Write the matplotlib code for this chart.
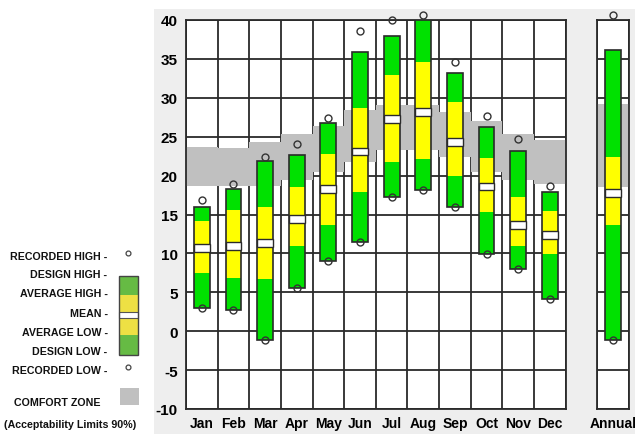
import matplotlib
matplotlib.use("Agg")
import matplotlib.pyplot as plt
from matplotlib.patches import Rectangle
from matplotlib.lines import Line2D

plt.rcParams['font.family'] = ['Liberation Sans', 'DejaVu Sans']
plt.rcParams['font.weight'] = 'bold'
plt.rcParams['axes.unicode_minus'] = False

# Monthly temperature statistics (deg C)
months = ['Jan', 'Feb', 'Mar', 'Apr', 'May', 'Jun', 'Jul', 'Aug', 'Sep', 'Oct', 'Nov', 'Dec']
rec_high = [16.9, 18.9, 22.4, 24.1, 27.4, 38.6, 40.0, 40.7, 34.6, 27.6, 24.7, 18.6]
design_high = [16.0, 18.3, 21.9, 22.7, 26.8, 35.9, 38.0, 40.0, 33.2, 26.2, 23.1, 17.9]
avg_high = [14.2, 15.6, 16.0, 18.5, 22.8, 28.7, 32.9, 34.6, 29.4, 22.3, 17.2, 15.4]
mean_temp = [10.7, 11.0, 11.3, 14.4, 18.3, 23.1, 27.3, 28.2, 24.3, 18.6, 13.7, 12.4]
avg_low = [7.5, 6.8, 6.7, 10.9, 13.6, 17.9, 21.8, 22.1, 19.9, 15.3, 10.9, 9.9]
design_low = [3.0, 2.7, -1.1, 5.6, 9.0, 11.5, 17.3, 18.1, 15.9, 9.9, 8.0, 4.1]
rec_low = [3.0, 2.7, -1.1, 5.6, 9.0, 11.5, 17.3, 18.1, 15.9, 9.9, 8.0, 4.1]
comfort_low = [18.6, 18.6, 18.6, 19.4, 20.5, 21.7, 23.3, 23.3, 22.4, 20.4, 19.4, 18.9]
comfort_high = [23.7, 23.5, 24.3, 25.3, 26.4, 28.4, 29.1, 29.1, 28.2, 27.0, 25.3, 24.6]

# Annual statistics
annual_label = ['Annual']
annual_rec_high = [40.7]
annual_design_high = [36.2]
annual_avg_high = [22.4]
annual_mean = [17.8]
annual_avg_low = [13.6]
annual_design_low = [-1.1]
annual_rec_low = [-1.1]
annual_comfort_low = [18.5]
annual_comfort_high = [29.2]

y_ticks = [-10, -5, 0, 5, 10, 15, 20, 25, 30, 35, 40]

GREEN = '#00E100'
YELLOW = '#FFFF00'
GRAY = '#C0C0C0'
LINE = '#2a2a2a'
PANEL = '#EEEEEE'

W, H = 635, 435
fig = plt.figure(figsize=(W / 100, H / 100), dpi=100)
fig.patch.set_facecolor('white')


def fx(x):
    return x / W


def fy(y):
    return 1 - y / H


# light panel behind the chart
fig.add_artist(Rectangle((fx(154), 0), 1 - fx(154), fy(10), transform=fig.transFigure,
                         facecolor=PANEL, edgecolor='none', zorder=0))


def draw_panel(ax, labels, rh, dh, ah, mn, al, dl, rl, cl, ch):
    n = len(labels)
    xs = list(range(n))
    ax.set_xlim(-0.5, n - 0.5)
    ax.set_ylim(-10, 40)
    ax.set_facecolor('white')
    # grid
    for k in range(n + 1):
        ax.axvline(k - 0.5, color=LINE, lw=1.3, zorder=1)
    for t in y_ticks:
        ax.axhline(t, color=LINE, lw=1.3, zorder=1)
    # comfort zone
    ax.bar(xs, [h - l for h, l in zip(ch, cl)], bottom=cl, width=1.0,
           color=GRAY, edgecolor='none', zorder=2)
    bw = 0.5
    # design low -> average low
    ax.bar(xs, [a - d for a, d in zip(al, dl)], bottom=dl, width=bw,
           color=GREEN, edgecolor='none', zorder=3)
    # average low -> average high
    ax.bar(xs, [a - b for a, b in zip(ah, al)], bottom=al, width=bw,
           color=YELLOW, edgecolor='none', zorder=3)
    # average high -> design high
    ax.bar(xs, [d - a for d, a in zip(dh, ah)], bottom=ah, width=bw,
           color=GREEN, edgecolor='none', zorder=3)
    # outline of the whole bar
    ax.bar(xs, [d - l for d, l in zip(dh, dl)], bottom=dl, width=bw,
           facecolor='none', edgecolor=LINE, lw=1.2, zorder=4)
    # mean band
    ax.bar(xs, [1.0] * n, bottom=[m - 0.5 for m in mn], width=bw,
           facecolor='white', edgecolor=LINE, lw=1.0, zorder=4)
    # recorded extremes
    ax.plot(xs, rh, 'o', ms=5, mfc='none', mec='#333333', mew=1.0,
            clip_on=False, zorder=5)
    ax.plot(xs, rl, 'o', ms=5, mfc='none', mec='#333333', mew=1.0,
            clip_on=False, zorder=5)
    for s in ax.spines.values():
        s.set_color(LINE)
        s.set_linewidth(1.3)
    ax.set_xticks(xs)
    ax.set_xticklabels(labels, fontsize=10, fontweight='bold')
    ax.tick_params(axis='x', length=0, pad=5)


ax = fig.add_axes([fx(186), fy(410), fx(565.6) - fx(186), fy(21) - fy(410)])
draw_panel(ax, months, rec_high, design_high, avg_high, mean_temp, avg_low,
           design_low, rec_low, comfort_low, comfort_high)
ax.set_yticks(y_ticks)
ax.set_yticklabels([str(t) for t in y_ticks], fontsize=11, fontweight='bold')
ax.tick_params(axis='y', length=0, pad=6)

ax2 = fig.add_axes([fx(596.7), fy(410), fx(629) - fx(596.7), fy(21) - fy(410)])
draw_panel(ax2, annual_label, annual_rec_high, annual_design_high, annual_avg_high,
           annual_mean, annual_avg_low, annual_design_low, annual_rec_low,
           annual_comfort_low, annual_comfort_high)
ax2.set_yticks(y_ticks)
ax2.set_yticklabels([])
ax2.tick_params(axis='y', length=0)

# legend on the left
legend_rows = [
    ('RECORDED HIGH -', 257),
    ('DESIGN HIGH -', 275),
    ('AVERAGE HIGH -', 294),
    ('MEAN -', 314),
    ('AVERAGE LOW -', 333),
    ('DESIGN LOW -', 352),
    ('RECORDED LOW -', 371),
]
for txt, y in legend_rows:
    fig.text(fx(107.5), fy(y), txt, ha='right', va='center', fontsize=7.7,
             fontweight='bold', color='#111111')
fig.text(fx(100), fy(402.7), 'COMFORT ZONE', ha='right', va='center', fontsize=7.7,
         fontweight='bold', color='#111111')
fig.text(fx(70), fy(425), '(Acceptability Limits 90%)', ha='center', va='center',
         fontsize=7.7, fontweight='bold', color='#111111')

LG_GREEN = '#66BB44'
LG_YELLOW = '#EEE044'
seg = [(277.3, 296, LG_GREEN), (296, 312.7, LG_YELLOW), (312.7, 318.7, 'white'),
       (318.7, 336, LG_YELLOW), (336, 355.7, LG_GREEN)]
for top, bot, col in seg:
    fig.add_artist(Rectangle((fx(119), fy(bot)), fx(138.3) - fx(119), fy(top) - fy(bot),
                             transform=fig.transFigure, facecolor=col, edgecolor='none'))
for top, bot in [(312.7, 318.7)]:
    fig.add_artist(Rectangle((fx(119), fy(bot)), fx(138.3) - fx(119), fy(top) - fy(bot),
                             transform=fig.transFigure, facecolor='none', edgecolor='#555555', lw=0.8))
fig.add_artist(Rectangle((fx(119), fy(355.7)), fx(138.3) - fx(119), fy(277.3) - fy(355.7),
                         transform=fig.transFigure, facecolor='none', edgecolor='#444444', lw=1.0))
for y in (254.3, 368.3):
    fig.add_artist(Line2D([fx(128.3)], [fy(y)], marker='o', ms=3.5, mfc='none',
                          mec='#444444', mew=0.9, transform=fig.transFigure))
fig.add_artist(Rectangle((fx(120), fy(405.7)), fx(138.7) - fx(120), fy(389) - fy(405.7),
                         transform=fig.transFigure, facecolor=GRAY, edgecolor='none'))

fig.savefig('out.png', dpi=100)
